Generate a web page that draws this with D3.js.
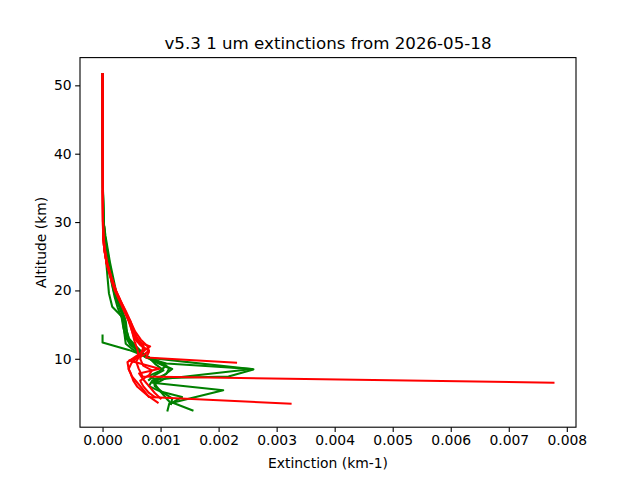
<!DOCTYPE html>
<html>
<head>
<meta charset="utf-8">
<script src="https://cdn.jsdelivr.net/npm/d3@7"></script>
<style>
  body { margin: 0; background: #fff; }
  svg { font-family: "DejaVu Sans", sans-serif; }
</style>
</head>
<body>
<svg id="chart" width="640" height="480"></svg>
<script>
// Profile data: altitude (km) and 1 um extinction (km-1)
const greenAlt1 = [51.6, 45, 40, 35, 30, 27.5, 25.5, 23.5, 21.5, 19.6, 17.6, 16.1, 14.2, 12.2, 11.5, 10.5, 9.6, 8.5, 7.2, 6.5, 5.4, 3.45, 2.45];
const greenExt1 = [0, 0.000002, 0.000003, 0.000005, 0.00001, 0.00003, 0.00005, 0.00007, 0.00009, 0.00011, 0.000167, 0.00034, 0.00037, 0.0004, 0.0005, 0.00068, 0.0009, 0.0012, 0.001, 0.00086, 0.00208, 0.00115, 0.00112];

const greenAlt2 = [51.6, 45, 40, 35, 30, 28, 26, 24, 22, 20, 18.5, 17, 15.5, 14, 12.8, 11.5, 10.2, 8.45, 7.4, 7.2, 6.3, 5.2, 4.2, 3.5];
const greenExt2 = [0, 0.000002, 0.000003, 0.000006, 0.00002, 0.00004, 0.00008, 0.00012, 0.00016, 0.00021, 0.00027, 0.00033, 0.0004, 0.00042, 0.00046, 0.00058, 0.00075, 0.0026, 0.00217, 0.0011, 0.0009, 0.001, 0.0011, 0.00118];

const greenAlt3 = [51.6, 45, 40, 35, 30, 28, 26, 24, 22, 20, 18, 16, 14.5, 13, 11.8, 10.8, 9.9, 9.3, 8.5, 6.85, 6.0, 5.2, 4.4, 3.6, 2.45];
const greenExt3 = [0, 0.000001, 0.000003, 0.000005, 0.00002, 0.00005, 0.00009, 0.00013, 0.00018, 0.00023, 0.0003, 0.00038, 0.0004, 0.00045, 0.00058, 0.0007, 0.00085, 0.0011, 0.00258, 0.00086, 0.0008, 0.001, 0.00137, 0.0012, 0.00155];

const greenAlt4 = [51.6, 45, 40, 35, 30, 28, 26, 24, 22, 20, 18, 16, 14.5, 13, 12, 11, 10.4, 9.7, 9.0, 8.2, 7.5, 6.8, 6.2];
const greenExt4 = [0, 0.000002, 0.000004, 0.000007, 0.00002, 0.00004, 0.00007, 0.0001, 0.00014, 0.00019, 0.00027, 0.00036, 0.00037, 0.00042, 0.0005, 0.00062, 0.00072, 0.00095, 0.0011, 0.00098, 0.0008, 0.00095, 0.0009];

const greenAlt5 = [13.4, 12.4, 11.3, 10.2, 9.3, 8.3, 7.6, 6.9];
const greenExt5 = [0, 0, 0.00045, 0.0008, 0.0009, 0.00105, 0.0009, 0.0008];

const greenAlt6 = [34.5, 30, 27, 25, 23, 21, 19, 17.5, 16, 14.5, 13.2, 12, 11, 10.1, 9.4, 8.6, 7.8, 7.0, 6.0, 5.0, 4.2, 3.4];
const greenExt6 = [0.000006, 0.00002, 0.00005, 0.00008, 0.00012, 0.00016, 0.00021, 0.00026, 0.00033, 0.00036, 0.0004, 0.00048, 0.00065, 0.0008, 0.00095, 0.00115, 0.0011, 0.0009, 0.0009, 0.00105, 0.0012, 0.00118];

const redAlt1 = [51.6, 45, 40, 35, 30, 28, 26, 24, 22, 20, 18.5, 17, 15.5, 14, 12.8, 11.6, 10.6, 9.6, 8.6, 7.4, 6.5];
const redExt1 = [0, 0, 0.000001, 0.000003, 0.000006, 0.00001, 0.00003, 0.00007, 0.00014, 0.00022, 0.0003, 0.00038, 0.00046, 0.00053, 0.0006, 0.0007, 0.00065, 0.00058, 0.00062, 0.00069, 0.00777];

const redAlt2 = [51.6, 45, 40, 35, 30, 28, 26, 24, 22, 20, 18.5, 17, 15.5, 14, 12.8, 11.8, 11.0, 10.2, 9.44];
const redExt2 = [0, 0, 0.000002, 0.000004, 0.000008, 0.000015, 0.00004, 0.00008, 0.00015, 0.00023, 0.00031, 0.00039, 0.00048, 0.00056, 0.00066, 0.00078, 0.0008, 0.00075, 0.0023];

const redAlt3 = [51.6, 45, 40, 35, 30, 28, 26, 24, 22, 20, 18.5, 17, 15.5, 14, 12.6, 11.4, 10.4, 9.4, 8.5, 7.5, 6.5, 5.5, 4.4, 3.43];
const redExt3 = [0, 0, 0.000001, 0.000003, 0.000006, 0.00001, 0.00003, 0.00007, 0.00013, 0.00021, 0.00029, 0.00037, 0.00045, 0.00051, 0.00055, 0.0006, 0.00062, 0.0005, 0.00045, 0.0005, 0.0006, 0.0007, 0.0008, 0.00324];

const redAlt4 = [34.5, 30, 28, 26, 24, 22, 20, 18.5, 17, 16, 14.7, 13, 12, 11.2, 10.5, 9.5, 8.5, 7.8, 6.8, 5.9, 4.6, 3.6];
const redExt4 = [0.000004, 0.000008, 0.00001, 0.00003, 0.00007, 0.00014, 0.00022, 0.0003, 0.00038, 0.00043, 0.0005, 0.0006, 0.0007, 0.00072, 0.0006, 0.00043, 0.00045, 0.00049, 0.00053, 0.0006, 0.00078, 0.00095];

const redAlt5 = [51.6, 45, 40, 35, 30, 28, 26, 24, 22, 20, 18.5, 17, 15.5, 14, 13, 12, 11.2, 10.5, 9.75, 8.55, 7.85, 7.0, 6.0, 5.0, 4.2];
const redExt5 = [0, 0, 0.000002, 0.000004, 0.000007, 0.00001, 0.00003, 0.00007, 0.00014, 0.00022, 0.0003, 0.00038, 0.00046, 0.00051, 0.00055, 0.00065, 0.0008, 0.0007, 0.00046, 0.00098, 0.00063, 0.0007, 0.0008, 0.0009, 0.001];

const redAlt6 = [34.5, 30, 28, 26, 24, 22, 20, 18.5, 17, 15.5, 14, 12.5, 11.8, 11, 10, 9, 8.3, 7.6, 6.8, 6.0, 5.0, 4.4];
const redExt6 = [0.000004, 0.000008, 0.000015, 0.00004, 0.00008, 0.00015, 0.00023, 0.00031, 0.0004, 0.00048, 0.00054, 0.0006, 0.00082, 0.00068, 0.00065, 0.0007, 0.00085, 0.0008, 0.00065, 0.0007, 0.0008, 0.0009];

const xTicks = [0, 0.001, 0.002, 0.003, 0.004, 0.005, 0.006, 0.007, 0.008];
const yTicks = [10, 20, 30, 40, 50];

const greenProfiles = [
  [greenAlt1, greenExt1], [greenAlt2, greenExt2], [greenAlt3, greenExt3],
  [greenAlt4, greenExt4], [greenAlt5, greenExt5], [greenAlt6, greenExt6],
];
const redProfiles = [
  [redAlt1, redExt1], [redAlt2, redExt2], [redAlt3, redExt3],
  [redAlt4, redExt4], [redAlt5, redExt5], [redAlt6, redExt6],
];

// Layout like a default matplotlib figure
const W = 640, H = 480;
const margin = { left: 80, right: 64, top: 57.6, bottom: 52.8 };
const plotW = W - margin.left - margin.right;
const plotH = H - margin.top - margin.bottom;

const toPoints = ([alt, ext]) => alt.map((a, i) => ({ alt: a, ext: ext[i] }));
const greenSeries = greenProfiles.map(toPoints);
const redSeries = redProfiles.map(toPoints);
const allPoints = greenSeries.concat(redSeries).flat();

// 5% margins like matplotlib autoscale
function padded([lo, hi]) {
  const d = (hi - lo) * 0.05;
  return [lo - d, hi + d];
}

const x = d3.scaleLinear()
  .domain(padded(d3.extent(allPoints, (d) => d.ext)))
  .range([0, plotW]);
const y = d3.scaleLinear()
  .domain(padded(d3.extent(allPoints, (d) => d.alt)))
  .range([plotH, 0]);

const svg = d3.select("#chart");
svg.append("rect").attr("width", W).attr("height", H).attr("fill", "#fff");

const g = svg.append("g").attr("transform", `translate(${margin.left},${margin.top})`);

g.append("defs").append("clipPath").attr("id", "clip")
  .append("rect").attr("width", plotW).attr("height", plotH);

const line = d3.line().x((d) => x(d.ext)).y((d) => y(d.alt));

const plot = g.append("g").attr("clip-path", "url(#clip)");

plot.selectAll("path.green")
  .data(greenSeries)
  .enter()
  .append("path")
  .attr("class", "green")
  .attr("d", line)
  .attr("fill", "none")
  .attr("stroke", "#008000")
  .attr("stroke-width", 2.08)
  .attr("stroke-linejoin", "round")
  .attr("stroke-linecap", "square");

plot.selectAll("path.red")
  .data(redSeries)
  .enter()
  .append("path")
  .attr("class", "red")
  .attr("d", line)
  .attr("fill", "none")
  .attr("stroke", "#ff0000")
  .attr("stroke-width", 2.08)
  .attr("stroke-linejoin", "round")
  .attr("stroke-linecap", "square");

// Axes
const xAxis = d3.axisBottom(x)
  .tickValues(xTicks)
  .tickFormat(d3.format(".3f"))
  .tickSize(4.86)
  .tickPadding(3.5);
const yAxis = d3.axisLeft(y)
  .tickValues(yTicks)
  .tickFormat(d3.format("d"))
  .tickSize(4.86)
  .tickPadding(3.5);

const gx = g.append("g").attr("transform", `translate(0,${plotH})`).call(xAxis);
const gy = g.append("g").call(yAxis);

[gx, gy].forEach((ax) => {
  ax.select(".domain").remove();
  ax.selectAll(".tick line").attr("stroke", "#000").attr("stroke-width", 1.1);
  ax.selectAll(".tick text")
    .attr("fill", "#000")
    .style("font-size", "13.9px")
    .style("font-family", "DejaVu Sans, sans-serif");
});

// Frame
g.append("rect")
  .attr("width", plotW)
  .attr("height", plotH)
  .attr("fill", "none")
  .attr("stroke", "#000")
  .attr("stroke-width", 1.1);

// Texts
svg.append("text")
  .attr("x", margin.left + plotW / 2)
  .attr("y", margin.top - 8.3)
  .attr("text-anchor", "middle")
  .style("font-size", "16.67px")
  .text("v5.3 1 um extinctions from 2026-05-18");

svg.append("text")
  .attr("x", margin.left + plotW / 2)
  .attr("y", 468)
  .attr("text-anchor", "middle")
  .style("font-size", "13.9px")
  .text("Extinction (km-1)");

svg.append("text")
  .attr("transform", `translate(46,${margin.top + plotH / 2}) rotate(-90)`)
  .attr("text-anchor", "middle")
  .style("font-size", "13.9px")
  .text("Altitude (km)");
</script>
</body>
</html>
